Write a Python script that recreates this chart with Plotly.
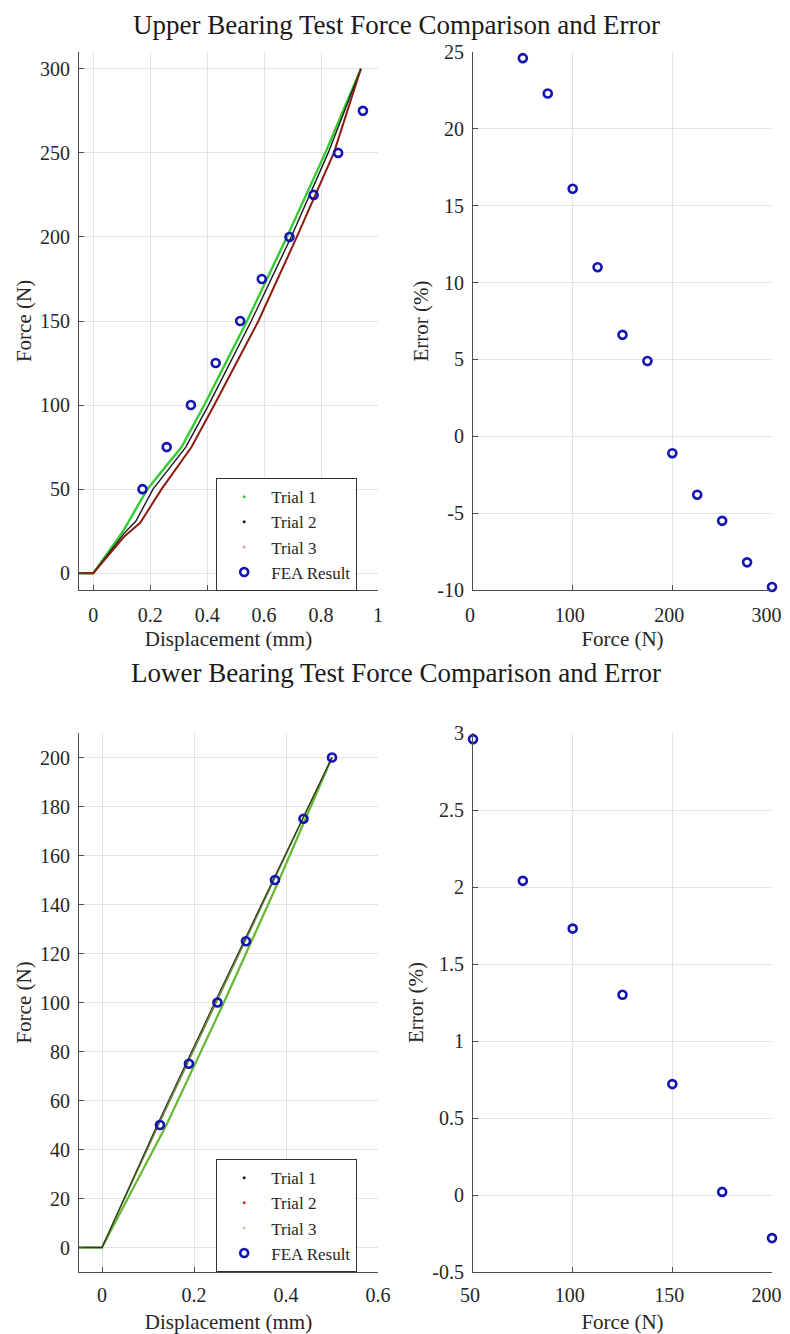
import plotly.graph_objects as go

# ---------------- Data ----------------
# Upper bearing test: force-displacement curves
up_t1_disp = [-0.05, 0, 0.105, 0.19, 0.31, 0.39, 0.54, 0.68, 0.815, 0.94]
up_t1_force = [0, 0, 25, 50, 75, 100, 150, 200, 250, 300]
up_t2_disp = [-0.05, 0, 0.11, 0.15, 0.21, 0.325, 0.405, 0.555, 0.695, 0.825, 0.94]
up_t2_force = [0, 0, 24, 31, 50, 75, 100, 150, 200, 250, 300]
up_t3_disp = [-0.05, 0, 0.11, 0.165, 0.24, 0.345, 0.425, 0.58, 0.715, 0.845, 0.94]
up_t3_force = [0, 0, 22, 30, 50, 75, 100, 150, 200, 250, 300]
up_fea_disp = [0.173, 0.258, 0.343, 0.43, 0.516, 0.592, 0.689, 0.774, 0.86, 0.947]
up_fea_force = [50, 75, 100, 125, 150, 175, 200, 225, 250, 275]
# Upper bearing error
up_err_force = [50, 75, 100, 125, 150, 175, 200, 225, 250, 275, 300]
up_err_pct = [24.6, 22.3, 16.1, 11.0, 6.6, 4.9, -1.1, -3.8, -5.5, -8.2, -9.8]

# Lower bearing test: force-displacement curves
lo_t1_disp = [-0.05, 0, 0.12, 0.245, 0.372, 0.5]
lo_t1_force = [0, 0, 50, 100, 150, 200]
lo_t2_disp = [-0.05, 0, 0.123, 0.248, 0.374, 0.5]
lo_t2_force = [0, 0, 50, 100, 150, 200]
lo_t3_disp = [-0.05, 0, 0.14, 0.265, 0.385, 0.5]
lo_t3_force = [0, 0, 50, 100, 150, 200]
lo_fea_disp = [0.126, 0.189, 0.251, 0.313, 0.376, 0.438, 0.5]
lo_fea_force = [50, 75, 100, 125, 150, 175, 200]
# Lower bearing error
lo_err_force = [50, 75, 100, 125, 150, 175, 200]
lo_err_pct = [2.96, 2.04, 1.73, 1.30, 0.72, 0.02, -0.28]

# Tick labels
NB = "\u00a0"  # padding keeps the last right-edge label inside the page
up_force_ticks = [0, 50, 100, 150, 200, 250, 300]
up_disp_ticks = [0, 0.2, 0.4, 0.6, 0.8, 1]
up_disp_labels = ["0", "0.2", "0.4", "0.6", "0.8", "1"]
up_errx_ticks = [0, 100, 200, 300]
up_errx_labels = ["0", "100", "200", "300" + NB]
up_erry_ticks = [-10, -5, 0, 5, 10, 15, 20, 25]
up_erry_labels = ["-10", "-5", "0", "5", "10", "15", "20", "25"]
lo_force_ticks = [0, 20, 40, 60, 80, 100, 120, 140, 160, 180, 200]
lo_disp_ticks = [0, 0.2, 0.4, 0.6]
lo_disp_labels = ["0", "0.2", "0.4", "0.6"]
lo_errx_ticks = [50, 100, 150, 200]
lo_errx_labels = ["50", "100", "150", "200" + NB]
lo_erry_ticks = [-0.5, 0, 0.5, 1, 1.5, 2, 2.5, 3]
lo_erry_labels = ["-0.5", "0", "0.5", "1", "1.5", "2", "2.5", "3"]

trial_names = ["Trial 1", "Trial 2", "Trial 3"]
fea_name = "FEA Result"

# ---------------- Styling ----------------
FONT = "Liberation Serif, Times New Roman, serif"
BLUE = "#1414B4"
GREEN = "#33CC33"
BLACK = "#1a1a1a"
DRED = "#8B1A10"
LGREEN = "#66B832"

fig = go.Figure()

def line(x, y, color, xa, ya, width=1.6):
    fig.add_trace(go.Scatter(x=x, y=y, mode="lines", line=dict(color=color, width=width),
                             xaxis=xa, yaxis=ya, showlegend=False, hoverinfo="skip"))

def legend_dot(name, color, legend):
    fig.add_trace(go.Scatter(x=[None], y=[None], mode="markers", name=name,
                             marker=dict(color=color, size=3), legend=legend,
                             xaxis="x", yaxis="y"))

def fea(x, y, xa, ya, legend=None):
    fig.add_trace(go.Scatter(x=x, y=y, mode="markers", name=fea_name,
                             marker=dict(symbol="circle-open", size=8, color=BLUE,
                                         line=dict(width=2.6, color=BLUE)),
                             xaxis=xa, yaxis=ya, cliponaxis=False,
                             showlegend=legend is not None, legend=legend or "legend"))

# Upper left
line(up_t1_disp, up_t1_force, GREEN, "x", "y", 2.4)
line(up_t2_disp, up_t2_force, BLACK, "x", "y", 1.4)
line(up_t3_disp, up_t3_force, DRED, "x", "y", 2.0)
legend_dot(trial_names[0], GREEN, "legend")
legend_dot(trial_names[1], BLACK, "legend")
legend_dot(trial_names[2], "#F0A0A0", "legend")
fea(up_fea_disp, up_fea_force, "x", "y", legend="legend")

# Upper right
fea(up_err_force, up_err_pct, "x2", "y2")

# Lower left
line(lo_t3_disp, lo_t3_force, LGREEN, "x3", "y3", 2.2)
line(lo_t2_disp, lo_t2_force, "#6A8F3A", "x3", "y3", 1.4)
line(lo_t1_disp, lo_t1_force, "#2E3A1A", "x3", "y3", 1.3)
legend_dot(trial_names[0], BLACK, "legend2")
legend_dot(trial_names[1], "#D03030", "legend2")
legend_dot(trial_names[2], "#A8DCA8", "legend2")
fea(lo_fea_disp, lo_fea_force, "x3", "y3", legend="legend2")

# Lower right
fea(lo_err_force, lo_err_pct, "x4", "y4")

# The page body has an 8px margin, so the figure is placed at (8, 8)
OFF = 8
W, H = 782, 1326
def px_x(p):
    return (p - OFF) / W
def px_y(p):
    return 1 - (p - OFF) / H

XL = [px_x(79), px_x(378)]
XR = [px_x(473), px_x(772)]
YU = [px_y(590), px_y(52)]
YD = [px_y(1272), px_y(733)]

tickfont = dict(family=FONT, size=20, color="#262626")
titlefont = dict(family=FONT, size=21, color="#262626")

def axis(domain, rng, tickvals, ticktext, title, anchor, standoff=2, tls=4, shift=0):
    return dict(domain=domain, range=rng, tickmode="array", tickvals=tickvals,
                ticktext=ticktext if ticktext is not None else [str(v) for v in tickvals],
                showgrid=True, gridcolor="#E3E3E3",
                gridwidth=1, showline=True, linecolor="#4D4D4D", linewidth=1.2,
                ticks="inside", ticklen=5, tickcolor="#4D4D4D", tickfont=tickfont,
                ticklabelstandoff=tls, ticklabelshift=shift, ticklabeloverflow="allow",
                title=dict(text=title, font=titlefont, standoff=standoff), zeroline=False,
                anchor=anchor, mirror=False, fixedrange=True, automargin=False)

legend_common = dict(xanchor="left", yanchor="top",
                     bgcolor="white", bordercolor="#333333", borderwidth=1.2,
                     font=dict(family=FONT, size=17, color="#262626"), tracegroupgap=0,
                     itemwidth=44)

layout = dict(
    width=W, height=H, margin=dict(l=0, r=0, t=0, b=0),
    paper_bgcolor="white", plot_bgcolor="white",
    font=dict(family=FONT),
    xaxis=axis(XL, [-0.05, 1], up_disp_ticks, up_disp_labels, "Displacement (mm)", "y", 6, 7),
    yaxis=axis(YU, [-10, 310], up_force_ticks, None, "Force (N)", "x"),
    xaxis2=axis(XR, [0, 300], up_errx_ticks, up_errx_labels, "Force (N)", "y2", 6, 7, -3),
    yaxis2=axis(YU, [-10, 25], up_erry_ticks, up_erry_labels, "Error (%)", "x2"),
    xaxis3=axis(XL, [-0.05, 0.6], lo_disp_ticks, lo_disp_labels, "Displacement (mm)", "y3", 10, 5),
    yaxis3=axis(YD, [-10, 210], lo_force_ticks, None, "Force (N)", "x3"),
    xaxis4=axis(XR, [50, 200], lo_errx_ticks, lo_errx_labels, "Force (N)", "y4", 10, 5, -3),
    yaxis4=axis(YD, [-0.5, 3], lo_erry_ticks, lo_erry_labels, "Error (%)", "x4"),
    legend=dict(x=px_x(216), y=px_y(478), **legend_common),
    legend2=dict(x=px_x(216), y=px_y(1159), **legend_common),
    annotations=[
        dict(text="Upper Bearing Test Force Comparison and Error", x=px_x(396), y=1,
             xref="paper", yref="paper", xanchor="center", yanchor="top", showarrow=False,
             font=dict(family=FONT, size=27, color="#1a1a1a")),
        dict(text="Lower Bearing Test Force Comparison and Error", x=px_x(396), y=px_y(673),
             xref="paper", yref="paper", xanchor="center", yanchor="middle", showarrow=False,
             font=dict(family=FONT, size=27, color="#1a1a1a")),
    ],
)
fig.update_layout(**layout)
fig.write_html("out.html")
